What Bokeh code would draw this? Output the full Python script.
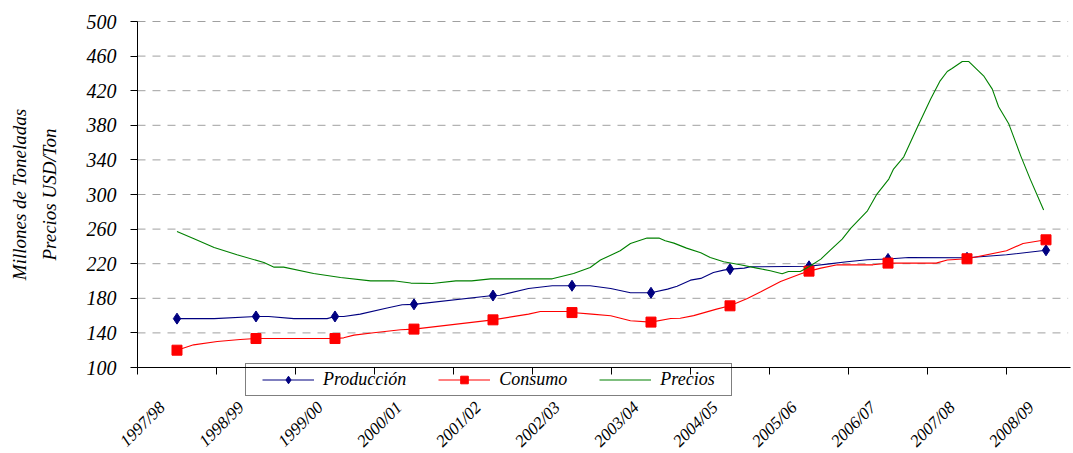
from math import pi
from bokeh.plotting import figure
from bokeh.models import Range1d, FixedTicker, Legend, LegendItem, Label
from bokeh.embed import file_html
from bokeh.resources import INLINE

# ---------------- data ----------------
campanas = ["1997/98", "1998/99", "1999/00", "2000/01", "2001/02", "2002/03",
            "2003/04", "2004/05", "2005/06", "2006/07", "2007/08", "2008/09"]
cat_pos = [i + 0.5 for i in range(len(campanas))]

# yearly markers
prod_anual = [156.5, 159, 159, 173, 183.2, 194.5, 186.4, 213.7, 217, 225.5, 226.8, 235.5]
cons_anual = [120, 133.5, 133.5, 144.4, 155.1, 163.5, 152.5, 171.3, 211.4, 220.7, 225.7, 247.6]

# line vertices (period index, value)
prod_x = [0.5, 0.97, 1.5, 1.66, 1.98, 2.4, 2.5, 2.61, 2.82, 3.16, 3.35, 3.5, 4.5, 4.59, 4.95,
          5.25, 5.5, 5.73, 5.99, 6.24, 6.5, 6.71, 6.83, 7.0, 7.13, 7.29, 7.42, 7.5, 7.68, 7.76,
          8.5, 8.73, 8.98, 9.24, 9.5, 9.76, 10.5, 11.0, 11.5]
prod_y = [156.5, 156.5, 159, 159, 156.5, 156.5, 159, 159, 161.7, 168.7, 172.5, 173, 183.2, 183.5, 191.3,
          194.5, 194.5, 194.5, 191.3, 186.4, 186.4, 190.6, 194, 201, 203, 209.8, 212.6, 213.7, 214.9, 216.4,
          217, 219.5, 222.2, 224.5, 225.5, 227.2, 226.8, 230.3, 235.5]

cons_x = [0.5, 0.71, 1.01, 1.3, 1.5, 2.5, 2.61, 2.74, 2.99, 3.33, 3.5, 4.5, 4.95, 5.1, 5.43, 5.5,
          5.75, 5.99, 6.24, 6.5, 6.75, 6.87, 7.04, 7.33, 7.5, 7.72, 7.89, 8.14, 8.39, 8.5, 8.65,
          8.86, 9.31, 9.5, 10.11, 10.25, 10.5, 11.0, 11.21, 11.5]
cons_y = [120, 126.2, 130, 132.4, 133.5, 133.5, 134.3, 137.4, 140.1, 143.6, 144.4, 155.1, 161.7, 164.7, 164.7, 163.5,
          161.7, 159.8, 154, 152.5, 156.6, 157, 160, 167.5, 171.3, 179.8, 187.5, 199.4, 208, 211.4, 214.9,
          218.7, 218.7, 220.7, 220.7, 224.2, 225.7, 234.9, 243.4, 247.6]

prec_x = [0.5, 0.73, 0.97, 1.26, 1.6, 1.73, 1.85, 2.23, 2.57, 2.95, 3.24, 3.46, 3.73, 4.03, 4.23, 4.47,
          5.25, 5.52, 5.73, 5.86, 6.11, 6.24, 6.45, 6.6, 6.68, 6.79, 6.95, 7.13, 7.25, 7.42, 7.63, 7.84,
          8.01, 8.16, 8.24, 8.39, 8.5, 8.65, 8.77, 8.92, 9.03, 9.24, 9.36, 9.51, 9.57, 9.7, 9.87, 10.04,
          10.16, 10.25, 10.31, 10.44, 10.52, 10.71, 10.82, 10.9, 11.03, 11.18, 11.3, 11.47]
prec_y = [257.2, 248.4, 238.7, 230.3, 221.4, 216, 216, 208.7, 204, 200.2, 200.2, 197.6, 197.1, 200.2, 200.2, 202.5,
          202.5, 208.7, 215.6, 224.2, 234.9, 243.4, 249.6, 249.6, 246.5, 243.8, 238, 232.6, 227.2, 222.2, 218.7, 214.9,
          211.8, 208.3, 211, 211, 216.4, 225.3, 235.7, 248.4, 261.2, 281.2, 300.5, 317.8, 329.4, 343.6, 377.5, 410.3,
          431.4, 442.2, 445.7, 453.8, 453.8, 437.2, 421.8, 401.4, 381.4, 344.7, 317.8, 282]

y_ticks = list(range(100, 501, 40))
y_min, y_max = 100, 500
x_min, x_max = 0, 11.81
y_title = "Millones de Toneladas\nPrecios USD/Ton"

# ---------------- figure ----------------
FONT = "Liberation Serif"

# The frame fills the whole canvas; both axes are drawn at fixed locations
# inside it, so that the rotated labels and the legend are never clipped.
p = figure(width=1073, height=453, output_backend="svg", toolbar_location=None,
           x_range=Range1d(-1.734, 11.848), y_range=Range1d(0.58, 524.28),
           min_border_left=0, min_border_right=0, min_border_top=0, min_border_bottom=0)
p.outline_line_color = None
p.background_fill_color = "white"
p.border_fill_color = "white"

# grid (dashed horizontals that span the plotting area only)
p.xgrid.visible = False
p.ygrid.visible = False
grid_y = y_ticks[1:]
p.segment(x0=[x_min] * len(grid_y), x1=[x_max - 0.03] * len(grid_y), y0=grid_y, y1=grid_y,
          line_color="#a0a0a0", line_dash="8 7", line_width=1)

# y axis
ya = p.yaxis[0]
ya.fixed_location = x_min
ya.bounds = (y_min, y_max)
ya.ticker = FixedTicker(ticks=y_ticks)
ya.axis_line_color = "black"
ya.major_tick_line_color = "black"
ya.major_tick_out = 7
ya.major_tick_in = 0
ya.minor_tick_line_color = None
ya.major_label_standoff = 14
ya.major_label_text_font = FONT
ya.major_label_text_font_style = "italic"
ya.major_label_text_font_size = "20px"
ya.major_label_text_color = "black"

p.add_layout(Label(x=-1.304, y=(y_min + y_max) / 2, text=y_title, angle=pi / 2,
                   text_align="center", text_baseline="middle",
                   text_font=FONT, text_font_style="italic", text_font_size="19px",
                   text_color="black", text_line_height=1.45))

# x axis: labels at category centres, tick marks between categories
xa = p.xaxis[0]
xa.fixed_location = y_min
xa.bounds = (x_min, x_max)
xa.ticker = FixedTicker(ticks=[c - 0.1875 for c in cat_pos], minor_ticks=list(range(12)))
xa.major_label_overrides = {c - 0.1875: lab for c, lab in zip(cat_pos, campanas)}
xa.major_label_orientation = pi / 4
xa.major_tick_out = 0
xa.major_tick_in = 0
xa.minor_tick_out = 7
xa.minor_tick_in = 0
xa.minor_tick_line_color = "black"
xa.axis_line_color = "black"
xa.major_label_standoff = 30
xa.major_label_text_font = FONT
xa.major_label_text_font_style = "italic"
xa.major_label_text_font_size = "17px"
xa.major_label_text_color = "black"

# series
l_prod = p.line(prod_x, prod_y, line_color="#000080", line_width=1.1)
m_prod = p.scatter(cat_pos, prod_anual, marker="diamond", size=11,
                   fill_color="#000080", line_color="#000080")
l_cons = p.line(cons_x, cons_y, line_color="#ff0000", line_width=1.1)
m_cons = p.scatter(cat_pos, cons_anual, marker="square", size=10,
                   fill_color="#ff0000", line_color="#ff0000")
l_prec = p.line(prec_x, prec_y, line_color="#008000", line_width=1.1)

legend = Legend(items=[
    LegendItem(label="Producción", renderers=[l_prod, m_prod]),
    LegendItem(label="Consumo", renderers=[l_cons, m_cons]),
    LegendItem(label="Precios", renderers=[l_prec]),
], orientation="horizontal", location=(245, 57))
legend.label_text_font = FONT
legend.label_text_font_style = "italic"
legend.label_text_font_size = "18px"
legend.label_text_color = "black"
legend.glyph_width = 52
legend.glyph_height = 19
legend.label_height = 19
legend.label_standoff = 9
legend.margin = 0
try:
    legend.padding = dict(left=16, right=16, top=5, bottom=5)
    legend.spacing = 32
except Exception:
    legend.padding = 6
    legend.spacing = 40
legend.border_line_color = "black"
legend.border_line_width = 1
legend.background_fill_alpha = 0
p.add_layout(legend, "center")

open("out.html", "w").write(file_html(p, INLINE))
